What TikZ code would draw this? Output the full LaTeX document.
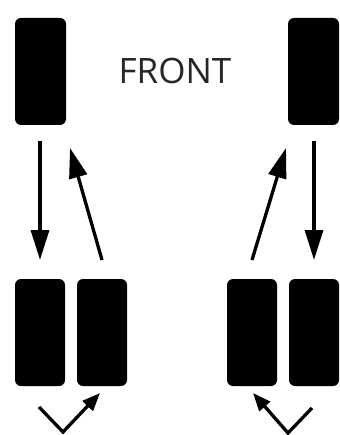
\documentclass[tikz,border=0pt]{standalone}
\usepackage{fontspec}
\setmainfont{Open Sans}
\usetikzlibrary{arrows.meta}
\begin{document}
\begin{tikzpicture}[x=1pt,y=-1pt,
  tyre/.style={fill=black,draw=none,rounded corners=6pt,minimum width=51pt,minimum height=107pt,inner sep=0pt},
  bigarrow/.style={line width=3.3pt,-{Triangle[length=30pt,width=18pt]}},
  smallarrow/.style={line width=3.3pt,-{Triangle[length=18pt,width=14pt]}},
  label/.style={font=\fontsize{35}{40}\selectfont,inner sep=0pt,text=black!85}]
\useasboundingbox (0,0) rectangle (339,435);
% tyres
\node[tyre] (tl) at (40.5,71.5) {};
\node[tyre] (tr) at (313.5,71.5) {};
\node[tyre,minimum width=50pt] (bl1) at (40,332.5) {};
\node[tyre,minimum width=50pt] (bl2) at (102,332.5) {};
\node[tyre,minimum width=50pt] (br1) at (252,332.5) {};
\node[tyre,minimum width=50pt] (br2) at (314,332.5) {};
\node[label] (front) at (175,71) {FRONT};
% arrow end points
\coordinate (a1s) at (40,141);
\coordinate (a1e) at (40,260);
\coordinate (a2s) at (102,260);
\coordinate (a2e) at (70,148);
\coordinate (a3s) at (252,260);
\coordinate (a3e) at (286,148);
\coordinate (a4s) at (314,141);
\coordinate (a4e) at (314,260);
\coordinate (v1s) at (39,407);
\coordinate (v1m) at (63,432);
\coordinate (v1e) at (100,393);
\coordinate (v2s) at (312,408);
\coordinate (v2m) at (288,433);
\coordinate (v2e) at (253,393);
\draw[bigarrow] (a1s) -- (a1e);
\draw[bigarrow] (a2s) -- (a2e);
\draw[bigarrow] (a3s) -- (a3e);
\draw[bigarrow] (a4s) -- (a4e);
\draw[smallarrow] (v1s) -- (v1m) -- (v1e);
\draw[smallarrow] (v2s) -- (v2m) -- (v2e);
\end{tikzpicture}
\end{document}
